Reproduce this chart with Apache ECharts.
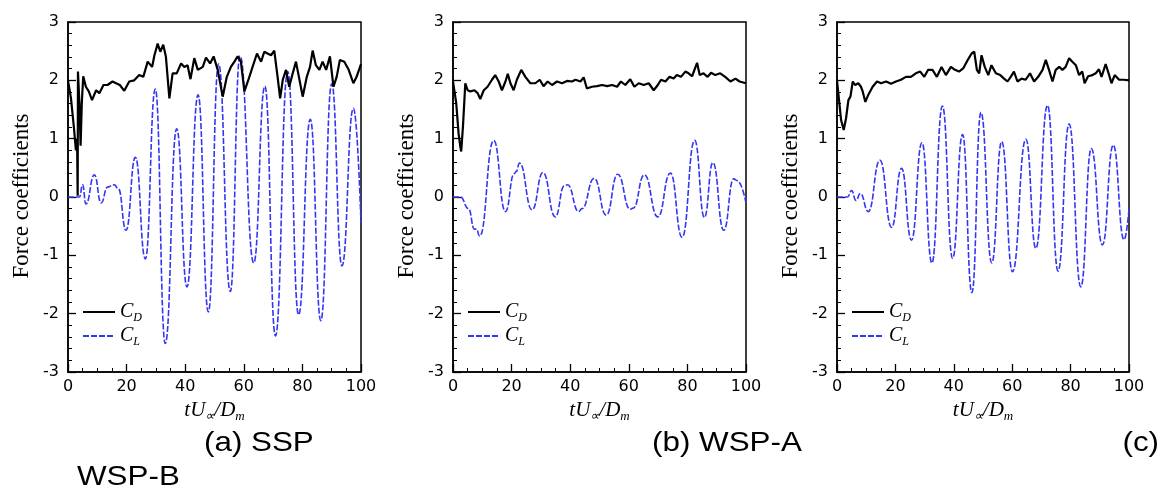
<!DOCTYPE html>
<html><head><meta charset="utf-8">
<script src="https://cdn.jsdelivr.net/npm/echarts@6/dist/echarts.min.js"></script>
<style>html,body{margin:0;padding:0;background:#fff}#c{width:1164px;height:491px}</style>
</head><body><div id="c"></div>
<script>
// ---------- data ----------
const captions = ['(a) SSP', '(b) WSP-A', '(c)', 'WSP-B'];
const yTitle = 'Force coefficients';

const cdSSP = [[0,2.0],[1.0,1.7],[2.0,1.2],[2.7,0.8],[3.1,1.0],[3.3,0.02],[3.4,2.15],[3.9,1.6],[4.3,0.88],[4.7,1.6],[5.2,2.07],
 [6.1,1.89],[7.1,1.81],[8.2,1.66],[9.6,1.83],[10.7,1.78],[12.1,1.92],[13.5,1.92],[15.2,1.98],[16.4,1.95],[17.7,1.92],[19.2,1.82],
 [20.9,1.98],[22.6,2.0],[24.3,2.09],[25.7,2.06],[27.2,2.32],[28.7,2.23],[29.5,2.43],[30.6,2.63],[31.5,2.49],[32.5,2.61],[33.4,2.41],
 [34.6,1.69],[35.7,2.12],[37.1,2.12],[38.6,2.29],[39.7,2.23],[40.8,2.26],[41.8,2.02],[43.1,2.38],[44.3,2.18],[46.0,2.23],[47.1,2.39],
 [48.5,2.29],[49.7,2.41],[51.1,2.18],[52.8,1.72],[54.2,2.06],[55.6,2.23],[56.8,2.32],[57.9,2.41],[59.0,2.32],[60.2,1.81],[61.7,2.03],
 [63.0,2.23],[64.5,2.46],[65.9,2.32],[67.0,2.49],[68.1,2.46],[69.3,2.43],[70.4,2.51],[71.6,2.03],[72.4,1.69],[73.3,2.01],[74.4,2.18],
 [75.5,1.89],[76.7,2.12],[77.8,2.32],[79.0,2.01],[80.1,1.72],[81.5,2.06],[82.6,2.23],[83.5,2.51],[84.6,2.26],[85.8,2.18],[86.9,2.32],
 [88.1,2.18],[89.4,2.41],[90.6,1.89],[91.7,2.06],[92.8,2.35],[94.3,2.32],[95.8,2.18],[97.4,1.95],[98.5,2.06],[100,2.28]];

const clSSP = [[0,0],[3.9,0],[5.0,0.21],[6.1,-0.12],[9.0,0.38],[11.3,-0.10],[13.5,0.17],[15.8,0.21],[17.2,0.14],[19.8,-0.57],
 [23.0,0.68],[26.4,-1.06],[29.8,1.85],[33.2,-2.51],[37.1,1.17],[40.6,-1.54],[44.4,1.75],[47.9,-1.97],[51.4,2.28],[55.4,-1.62],
 [58.7,2.42],[63.4,-1.13],[67.2,1.90],[70.8,-2.38],[75.0,2.15],[78.7,-2.02],[82.7,1.33],[86.3,-2.12],[90.0,1.94],[93.5,-1.18],
 [97.4,1.52],[100,-0.45]];

const cdWSPA = [[0,1.98],[1.1,1.61],[1.9,1.09],[2.5,0.86],[2.8,0.78],[3.4,1.21],[4.2,1.95],[5.0,1.83],[5.9,1.81],[7.3,1.83],[8.4,1.78],
 [9.3,1.68],[10.5,1.83],[11.8,1.89],[13.3,2.01],[14.4,2.09],[15.6,1.98],[16.7,1.83],[17.9,1.98],[18.7,2.11],[19.6,1.95],[20.7,1.83],
 [21.8,2.01],[23.3,2.18],[24.7,2.06],[26.4,1.95],[28.1,1.95],[29.6,2.01],[30.9,1.90],[32.3,1.98],[33.8,1.92],[35.5,1.98],[37.2,1.95],
 [38.9,1.99],[40.6,1.98],[41.8,2.01],[43.5,1.98],[44.6,2.05],[45.7,1.86],[47.4,1.89],[49.1,1.90],[50.9,1.92],[52.6,1.90],[54.3,1.92],
 [56.0,1.89],[57.3,1.98],[58.8,1.92],[60.5,2.02],[61.9,1.89],[63.4,1.95],[65.1,1.92],[66.8,1.95],[68.5,1.83],[69.9,1.92],[71.0,2.01],
 [72.5,1.98],[73.9,2.06],[75.3,2.03],[76.4,2.09],[77.8,2.06],[79.3,2.15],[80.4,2.12],[81.6,2.07],[83.3,2.30],[84.2,2.09],[85.5,2.12],
 [86.9,2.06],[88.1,2.13],[89.5,2.09],[91.2,2.12],[92.9,2.06],[94.7,1.98],[96.4,2.03],[97.8,1.98],[100,1.95]];

const clWSPA = [[0,0],[2.5,0.0],[5.3,-0.2],[7.3,-0.55],[8.0,-0.55],[9.1,-0.67],[13.9,0.97],[17.9,-0.25],[20.9,0.40],[21.6,0.44],
 [22.7,0.58],[27.0,-0.22],[30.7,0.42],[34.9,-0.34],[38.0,0.19],[39.1,0.21],[42.9,-0.25],[44.0,-0.20],[48.2,0.32],[52.3,-0.31],
 [56.2,0.39],[60.5,-0.21],[61.5,-0.19],[65.3,0.38],[69.9,-0.34],[74.2,0.41],[78.2,-0.69],[82.5,0.97],[85.8,-0.35],[88.7,0.59],
 [92.4,-0.57],[95.8,0.31],[97.0,0.28],[100,-0.1]];

const cdWSPB = [[0,2.0],[0.7,1.66],[1.4,1.32],[2.3,1.15],[3.1,1.35],[3.9,1.66],[4.6,1.72],[5.4,1.98],[6.2,1.92],[7.3,1.95],[8.2,1.89],
 [8.8,1.81],[9.7,1.63],[10.7,1.75],[12.2,1.89],[13.7,1.98],[15.1,1.95],[16.8,1.98],[18.5,1.94],[20.2,1.98],[21.9,2.01],[23.6,2.06],
 [25.3,2.06],[27.0,2.12],[28.5,2.15],[29.9,2.06],[31.2,2.18],[32.7,2.18],[34.2,2.06],[35.8,2.23],[37.3,2.09],[39.0,2.23],[40.4,2.18],
 [41.8,2.15],[43.3,2.21],[44.9,2.36],[46.1,2.46],[47.0,2.49],[47.9,2.18],[48.7,2.12],[49.5,2.43],[50.6,2.23],[51.8,2.09],[52.9,2.26],
 [54.4,2.12],[55.9,2.09],[57.2,2.03],[58.4,1.98],[59.5,2.06],[60.6,2.15],[61.8,1.98],[63.2,2.03],[64.6,2.01],[66.1,2.12],[67.5,1.98],
 [68.9,2.06],[70.4,2.18],[71.5,2.35],[72.6,2.18],[73.8,1.98],[74.9,2.18],[76.1,2.23],[77.2,2.18],[78.3,2.23],[79.5,2.38],[80.6,2.32],
 [81.8,2.26],[82.9,2.09],[84.0,2.15],[84.8,1.95],[86.0,2.07],[87.5,2.09],[88.6,2.12],[89.7,2.19],[90.6,2.06],[92.0,2.28],[93.2,2.09],
 [94.0,1.95],[95.1,2.09],[96.6,2.01],[98.3,2.01],[100,2.0]];

const clWSPB = [[0,0],[3.6,0],[5.0,0.11],[6.5,-0.06],[8.0,0.06],[10.7,-0.25],[14.7,0.63],[18.7,-0.52],[22.1,0.49],[25.5,-0.74],
 [29.1,0.93],[32.5,-1.13],[36.1,1.56],[39.6,-1.05],[43.0,1.07],[46.2,-1.64],[49.3,1.45],[53.0,-1.13],[56.4,0.95],[60.1,-1.28],
 [64.7,0.99],[68.1,-0.88],[72.1,1.57],[75.7,-1.27],[79.5,1.25],[83.5,-1.54],[87.1,0.83],[90.9,-0.82],[94.6,0.89],[98.3,-0.73],[100,-0.2]];

const panelData = [[cdSSP, clSSP], [cdWSPA, clWSPA], [cdWSPB, clWSPB]];

// ---------- layout ----------
const panels = [{left:68, width:293}, {left:453, width:293}, {left:837, width:292}];
const TOP = 22, H = 350;
const TICK_FONT = '"DejaVu Sans", sans-serif';
const SERIF = '"Liberation Serif", "Times New Roman", serif';

const grid = panels.map(p => ({left:p.left, top:TOP, width:p.width, height:H, show:true, borderColor:'#000', borderWidth:1.5, backgroundColor:'transparent'}));

const xAxis = panels.map((p,i) => ({
  type:'value', gridIndex:i, min:0, max:100, interval:20,
  axisLine:{show:true, onZero:false, lineStyle:{color:'#000', width:1.5}},
  axisTick:{show:true, inside:true, length:8, lineStyle:{color:'#000', width:1.3}},
  minorTick:{show:true, splitNumber:4, length:4, lineStyle:{color:'#000', width:1}},
  splitLine:{show:false},
  axisLabel:{color:'#000', fontFamily:TICK_FONT, fontSize:16, margin:7},
  name:'{i|tU}{s|∝}{i|/D}{s|m}', nameLocation:'middle', nameGap:19,
  nameTextStyle:{rich:{
    i:{fontFamily:SERIF, fontStyle:'italic', fontSize:21, color:'#000'},
    s:{fontFamily:SERIF, fontStyle:'italic', fontSize:13, color:'#000', padding:[13,0,0,0]}
  }}
}));

const yAxis = panels.map((p,i) => ({
  type:'value', gridIndex:i, min:-3, max:3, interval:1,
  axisLine:{show:true, onZero:false, lineStyle:{color:'#000', width:1.5}},
  axisTick:{show:true, inside:true, length:8, lineStyle:{color:'#000', width:1.3}},
  minorTick:{show:true, splitNumber:5, length:4, lineStyle:{color:'#000', width:1}},
  splitLine:{show:false},
  axisLabel:{color:'#000', fontFamily:TICK_FONT, fontSize:16, margin:9}
}));

const series = [];
panelData.forEach((pd,i) => {
  series.push({name:'CD', type:'line', xAxisIndex:i, yAxisIndex:i, data:pd[0], symbol:'none', showSymbol:false,
    lineStyle:{color:'#000', width:2.2}, itemStyle:{color:'#000'}, z:3});
  series.push({name:'CL', type:'line', xAxisIndex:i, yAxisIndex:i, data:pd[1], symbol:'none', showSymbol:false,
    smooth:0.5, smoothMonotone:'x',
    lineStyle:{color:'#3535f5', width:1.6, type:[6,2]}, itemStyle:{color:'#3535f5'}, z:2});
});

const legend = panels.map(p => ({
  left:p.left+14, top:302, orient:'vertical', itemWidth:32, itemHeight:12, itemGap:2, padding:0,
  selectedMode:false, data:['CD','CL'],
  itemStyle:{opacity:0, borderWidth:0},
  formatter: n => n === 'CD' ? '{c|C}{s|D}' : '{c|C}{s|L}',
  textStyle:{rich:{
    c:{fontFamily:SERIF, fontStyle:'italic', fontSize:20, color:'#000'},
    s:{fontFamily:SERIF, fontStyle:'italic', fontSize:12, color:'#000', padding:[12,0,0,0]}
  }}
}));

const capFont = '28px "Liberation Sans", Arial, sans-serif';
const graphic = [];
panels.forEach(p => {
  graphic.push({type:'text', x:p.left-46, y:196, rotation:Math.PI/2,
    style:{text:yTitle, font:'23px ' + SERIF, fill:'#000', align:'center', verticalAlign:'middle', textAlign:'center', textVerticalAlign:'middle'}});
});
const capPos = [{x:204, y:443, a:'left'}, {x:652, y:443, a:'left'}, {x:1159, y:443, a:'right'}, {x:77, y:477, a:'left'}];
captions.forEach((c,i) => {
  graphic.push({type:'text', x:capPos[i].x, y:capPos[i].y, scaleX:1.12,
    style:{text:c, font:capFont, fill:'#000', align:capPos[i].a, verticalAlign:'middle', textAlign:capPos[i].a, textVerticalAlign:'middle'}});
});

const chart = echarts.init(document.getElementById('c'), null, {renderer:'canvas'});
chart.setOption({animation:false, backgroundColor:'#fff', grid, xAxis, yAxis, series, legend, graphic});
</script></body></html>
